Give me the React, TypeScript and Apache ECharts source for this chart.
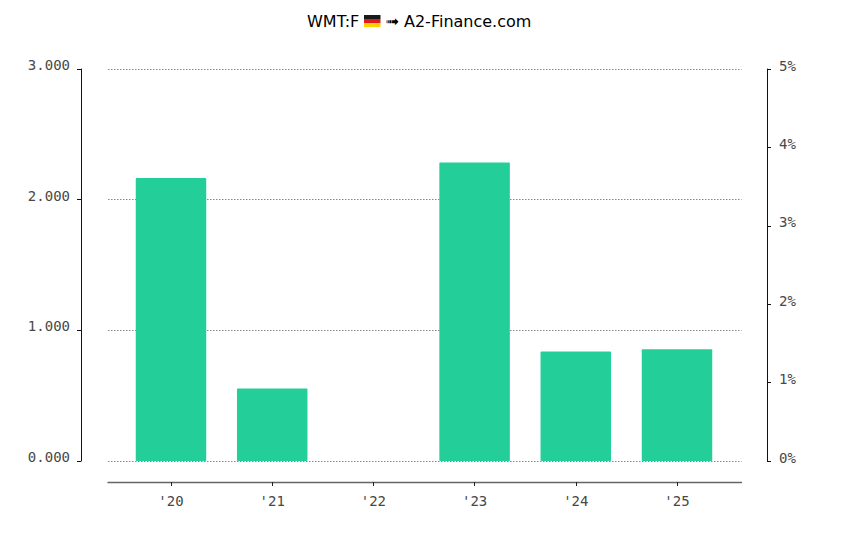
import React, { useEffect, useRef } from "react";
import * as echarts from "echarts";

const categories = ["'20", "'21", "'22", "'23", "'24", "'25"];
const barValues = [2.165, 0.555, 0, 2.285, 0.838, 0.855];
const leftTicks = { min: 0, max: 3, interval: 1 };
const rightTicks = { min: 0, max: 5, interval: 1 };
const titleLeft = "WMT:F";
const titleRight = "➟ A2-Finance.com";
const mono = "'DejaVu Sans Mono', monospace";
const sans = "'DejaVu Sans', sans-serif";
const textColor = "#484848";

export default function App() {
  const ref = useRef<HTMLDivElement>(null);
  useEffect(() => {
    const chart = echarts.init(ref.current!, undefined, { renderer: "svg" });
    const top = 69;
    const bottom = 535 - 461;
    chart.setOption({
      animation: false,
      backgroundColor: "#ffffff",
      title: [
        { text: titleLeft, left: 302, top: 8, textStyle: { fontFamily: sans, fontSize: 16, fontWeight: "normal", color: "#000" } },
        { text: titleRight, left: 380.5, top: 8, textStyle: { fontFamily: sans, fontSize: 16, fontWeight: "normal", color: "#000" } },
      ],
      graphic: [
        { type: "rect", shape: { x: 364, y: 15, width: 16.5, height: 4 }, style: { fill: "#1a1a1a" } },
        { type: "rect", shape: { x: 364, y: 19, width: 16.5, height: 4 }, style: { fill: "#dd1c1c" } },
        { type: "rect", shape: { x: 364, y: 23, width: 16.5, height: 4 }, style: { fill: "#ffcf00" } },
      ],
      grid: [
        { left: 120.4, right: 850 - 727.6, top, bottom },
        { left: 108, right: 850 - 741.5, top, bottom },
      ],
      xAxis: [
        {
          type: "category",
          gridIndex: 0,
          data: categories,
          position: "bottom",
          offset: 21,
          axisLine: { show: false, onZero: false },
          axisTick: { show: true, alignWithLabel: true, length: 4, lineStyle: { color: "#222", width: 1 } },
          axisLabel: { fontFamily: mono, fontSize: 14, color: textColor, margin: 12, interval: 0 },
        },
        {
          type: "category",
          gridIndex: 1,
          data: categories,
          position: "bottom",
          offset: 21,
          axisLine: { show: true, onZero: false, lineStyle: { color: "#666", width: 1.3 } },
          axisTick: { show: false },
          axisLabel: { show: false },
        },
      ],
      yAxis: [
        { type: "value", gridIndex: 0, ...leftTicks, show: false, splitLine: { show: false } },
        {
          type: "value",
          gridIndex: 1,
          ...leftTicks,
          position: "left",
          offset: 27,
          axisLine: { show: true, lineStyle: { color: "#111", width: 1 } },
          axisTick: { show: true, length: 4, lineStyle: { color: "#111", width: 1 } },
          axisLabel: {
            fontFamily: mono,
            fontSize: 14,
            color: textColor,
            margin: 11,
            verticalAlign: "bottom",
            lineHeight: 8,
            formatter: (v: number) => v.toFixed(3),
          },
          splitLine: { show: true, lineStyle: { color: "#888", width: 1, type: [1.5, 1.5] } },
        },
        {
          type: "value",
          gridIndex: 1,
          ...rightTicks,
          position: "right",
          offset: 25.5,
          axisLine: { show: true, lineStyle: { color: "#111", width: 1 } },
          axisTick: { show: true, length: 4, lineStyle: { color: "#111", width: 1 } },
          axisLabel: {
            fontFamily: mono,
            fontSize: 14,
            color: textColor,
            margin: 12,
            verticalAlign: "bottom",
            lineHeight: 7,
            formatter: (v: number) => `${v}%`,
          },
          splitLine: { show: false },
        },
      ],
      series: [
        {
          type: "bar",
          xAxisIndex: 0,
          yAxisIndex: 0,
          data: barValues,
          barWidth: 70.5,
          itemStyle: { color: "#24CE98", borderRadius: 1 },
          z: 5,
        },
      ],
    });
    return () => chart.dispose();
  }, []);
  return <div ref={ref} style={{ position: "fixed", left: 0, top: 0, width: 850, height: 535 }} />;
}
